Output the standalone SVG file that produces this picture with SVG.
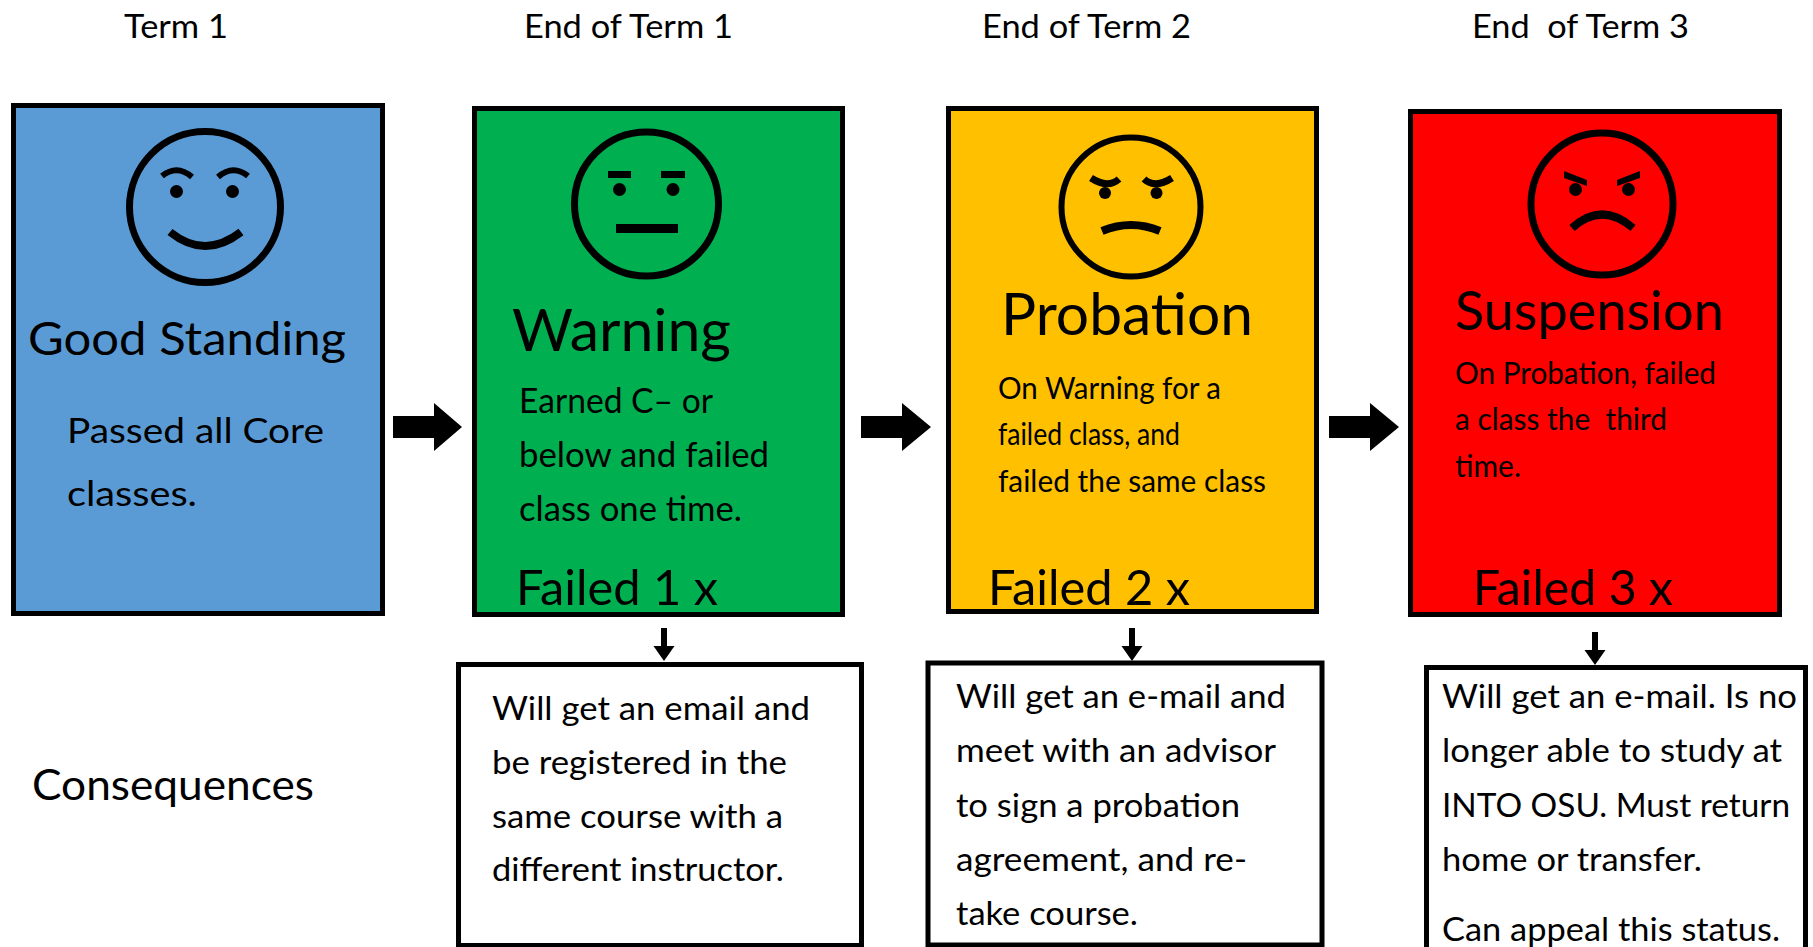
<svg xmlns="http://www.w3.org/2000/svg" width="1813" height="947" viewBox="0 0 1813 947">
<style>
text{font-family:"Lato","Open Sans","Liberation Sans",sans-serif;fill:#000}
.box{stroke:#000;stroke-width:5}
.cons{fill:#fff;stroke:#000;stroke-width:5}
.face{fill:none;stroke:#000}
.ft{fill:none;stroke:#000}
.h{font-size:32px}
.t{font-size:48px}
.f{font-size:48px}
.b{font-size:35px}
.s{font-size:30px}
.c{font-size:33px}
</style>
<rect width="1813" height="947" fill="#fff"/>
<text class="h" x="124" y="38" textLength="104" lengthAdjust="spacingAndGlyphs">Term 1</text>
<text class="h" x="524" y="38" textLength="209" lengthAdjust="spacingAndGlyphs">End of Term 1</text>
<text class="h" x="982" y="38" textLength="209" lengthAdjust="spacingAndGlyphs">End of Term 2</text>
<text class="h" x="1472" y="38" xml:space="preserve" textLength="217" lengthAdjust="spacingAndGlyphs">End  of Term 3</text>
<text x="32" y="800" font-size="42" textLength="282" lengthAdjust="spacingAndGlyphs">Consequences</text>
<g id="good-standing">
<rect class="box" x="13.5" y="105.5" width="369" height="508" fill="#5b9bd5"/>
<circle class="face" cx="205" cy="207" r="75.500" stroke-width="7"/>
<path class="ft" stroke-width="6" d="M162 176Q177 164 192 177M218 177Q233 164 248 176"/>
<circle cx="176.500" cy="191.500" r="6.500"/><circle cx="232.500" cy="191.500" r="6.500"/>
<path class="ft" stroke-width="8" d="M170 232Q205 260 241 232"/>
<text class="t" style="font-size:47px" x="28" y="355" textLength="318" lengthAdjust="spacingAndGlyphs">Good Standing</text>
<text class="b" x="67" y="443" textLength="257" lengthAdjust="spacingAndGlyphs">Passed all Core</text>
<text class="b" x="67" y="506" textLength="130" lengthAdjust="spacingAndGlyphs">classes.</text>
</g>
<g id="warning">
<rect class="box" x="474.500" y="108.500" width="368" height="506" fill="#00b050"/>
<circle class="face" cx="646.500" cy="204" r="72" stroke-width="7"/>
<path d="M608 171h23v7h-23zM661 171h24v7h-24zM616 224h62v9h-62z"/>
<circle cx="619.500" cy="189.500" r="6.500"/><circle cx="673" cy="189.500" r="6.500"/>
<text class="t" style="font-size:58px" x="512" y="351" textLength="219" lengthAdjust="spacingAndGlyphs">Warning</text>
<text class="b" x="519" y="413" textLength="194" lengthAdjust="spacingAndGlyphs">Earned C– or</text>
<text class="b" x="519" y="467" textLength="250" lengthAdjust="spacingAndGlyphs">below and failed</text>
<text class="b" x="519" y="521" textLength="223" lengthAdjust="spacingAndGlyphs">class one time.</text>
<text class="f" x="516" y="605" textLength="202" lengthAdjust="spacingAndGlyphs">Failed 1 x</text>
</g>
<g id="probation">
<rect class="box" x="948.500" y="108.500" width="368" height="503" fill="#ffc000"/>
<circle class="face" cx="1131" cy="207" r="69.500" stroke-width="6"/>
<path class="ft" stroke-width="7" d="M1091 178Q1108 189 1119 179M1172 178Q1155 189 1144 179"/>
<circle cx="1105" cy="193" r="6"/><circle cx="1156.500" cy="193" r="6"/>
<path class="ft" stroke-width="8" d="M1102 231Q1131 219 1160 231"/>
<text class="t" style="font-size:58px" x="1001" y="335" textLength="252" lengthAdjust="spacingAndGlyphs">Probation</text>
<text class="s" x="998" y="399" textLength="223" lengthAdjust="spacingAndGlyphs">On Warning for a</text>
<text class="s" x="998" y="445" textLength="182" lengthAdjust="spacingAndGlyphs">failed class, and</text>
<text class="s" x="998" y="492" textLength="268" lengthAdjust="spacingAndGlyphs">failed the same class</text>
<text class="f" x="988" y="605" textLength="202" lengthAdjust="spacingAndGlyphs">Failed 2 x</text>
</g>
<g id="suspension">
<rect class="box" x="1410.500" y="111.500" width="369" height="503" fill="#f00"/>
<circle class="face" cx="1602" cy="204" r="71" stroke-width="7"/>
<path d="M1564 171l23 9v6l-23-8zM1640 171v7l-23 8v-6z"/>
<circle cx="1575.500" cy="189.500" r="6.500"/><circle cx="1628.500" cy="189.500" r="6.500"/>
<path class="ft" stroke-width="8" d="M1572 228Q1602 201 1633 228"/>
<text class="t" style="font-size:54px" x="1455" y="330" textLength="269" lengthAdjust="spacingAndGlyphs">Suspension</text>
<text class="s" x="1455" y="384" textLength="261" lengthAdjust="spacingAndGlyphs">On Probation, failed</text>
<text class="s" x="1455" y="430" xml:space="preserve" textLength="212" lengthAdjust="spacingAndGlyphs">a class the  third</text>
<text class="s" x="1455" y="477" textLength="66" lengthAdjust="spacingAndGlyphs">time.</text>
<text class="f" x="1473" y="605" textLength="200" lengthAdjust="spacingAndGlyphs">Failed 3 x</text>
</g>
<g id="consequence-1">
<rect class="cons" x="458.500" y="664.500" width="403" height="281"/>
<text class="c" x="492" y="720" textLength="318" lengthAdjust="spacingAndGlyphs">Will get an email and</text>
<text class="c" x="492" y="774" textLength="295" lengthAdjust="spacingAndGlyphs">be registered in the</text>
<text class="c" x="492" y="828" textLength="291" lengthAdjust="spacingAndGlyphs">same course with a</text>
<text class="c" x="492" y="881" textLength="292" lengthAdjust="spacingAndGlyphs">different instructor.</text>
</g>
<g id="consequence-2">
<rect class="cons" x="928" y="663" width="394" height="282"/>
<text class="c" x="956" y="708" textLength="330" lengthAdjust="spacingAndGlyphs">Will get an e-mail and</text>
<text class="c" x="956" y="762" textLength="320" lengthAdjust="spacingAndGlyphs">meet with an advisor</text>
<text class="c" x="956" y="817" textLength="284" lengthAdjust="spacingAndGlyphs">to sign a probation</text>
<text class="c" x="956" y="871" textLength="291" lengthAdjust="spacingAndGlyphs">agreement, and re-</text>
<text class="c" x="956" y="925" textLength="182" lengthAdjust="spacingAndGlyphs">take course.</text>
</g>
<g id="consequence-3">
<rect class="cons" x="1426.500" y="667.500" width="379" height="290"/>
<text class="c" x="1442" y="708" textLength="355" lengthAdjust="spacingAndGlyphs">Will get an e-mail. Is no</text>
<text class="c" x="1442" y="762" textLength="340" lengthAdjust="spacingAndGlyphs">longer able to study at</text>
<text class="c" x="1442" y="817" textLength="348" lengthAdjust="spacingAndGlyphs">INTO OSU. Must return</text>
<text class="c" x="1442" y="871" textLength="260" lengthAdjust="spacingAndGlyphs">home or transfer.</text>
<text class="c" x="1442" y="941" textLength="338" lengthAdjust="spacingAndGlyphs">Can appeal this status.</text>
</g>
<g id="connectors" fill="#000">
<path d="M393 416h41v-13l28 24-28 24v-13h-41z"/>
<path d="M861 416h41v-13l29 24-29 24v-13h-41z"/>
<path d="M1329 416h41v-13l29 24-29 24v-13h-41z"/>
<path d="M661 628h6v18h7.500l-10.500 15-10.500-15h7.500z"/>
<path d="M1129 628h6v18h7.500l-10.500 15-10.500-15h7.500z"/>
<path d="M1592 632h6v18h7.500l-10.500 15-10.500-15h7.500z"/>
</g>
</svg>
